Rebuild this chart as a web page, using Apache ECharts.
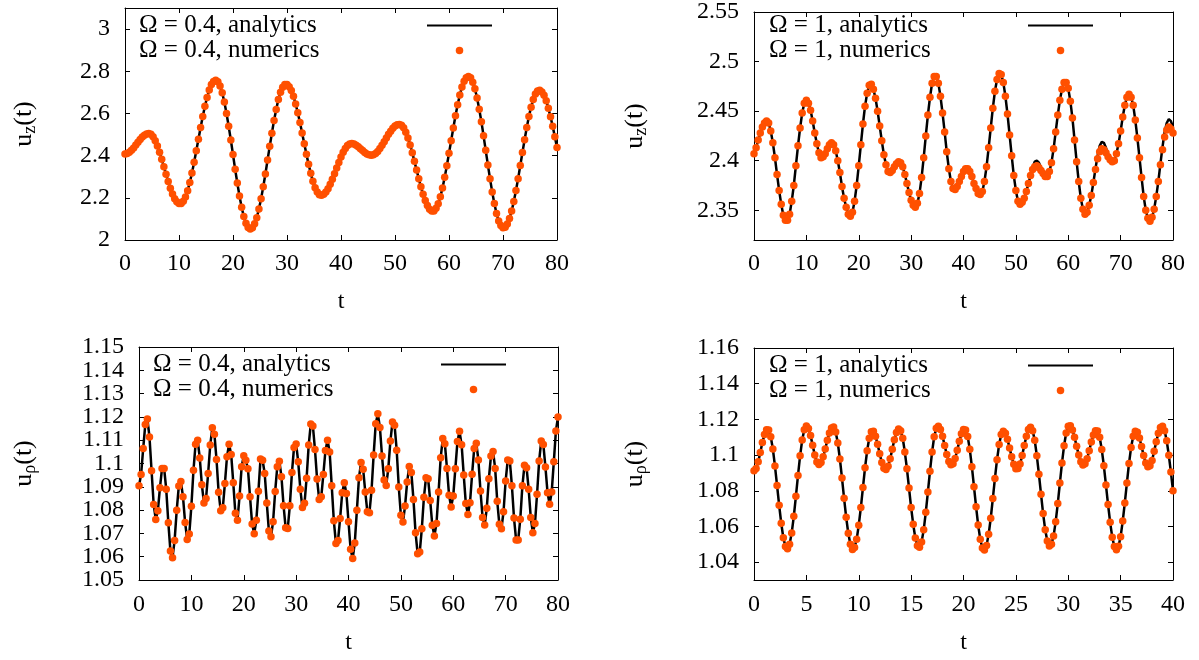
<!DOCTYPE html>
<html>
<head>
<meta charset="utf-8">
<script src="https://cdn.jsdelivr.net/npm/echarts@6/dist/echarts.min.js"></script>
<style>html,body{margin:0;padding:0;background:#fff}#chart{width:1199px;height:660px}</style>
</head>
<body>
<div id="chart"></div>
<script>
// ---------------- data ----------------
// u_z(t), Omega = 0.4, t = 0 .. 80 step 0.4
const UZ_W04 = [
2.408,2.410,2.416,2.425,2.436,2.450,2.463,2.477,2.488,2.497,
2.503,2.505,2.501,2.490,2.471,2.446,2.416,2.383,2.347,2.312,
2.277,2.245,2.218,2.196,2.181,2.173,2.173,2.184,2.204,2.234,
2.273,2.318,2.369,2.423,2.478,2.533,2.586,2.634,2.676,2.711,
2.737,2.752,2.757,2.750,2.730,2.698,2.654,2.600,2.539,2.474,
2.405,2.335,2.270,2.209,2.155,2.111,2.079,2.059,2.052,2.058,
2.077,2.106,2.147,2.196,2.252,2.313,2.379,2.444,2.506,2.567,
2.619,2.666,2.700,2.724,2.737,2.737,2.727,2.709,2.681,2.645,
2.603,2.557,2.507,2.456,2.406,2.359,2.316,2.278,2.248,2.227,
2.215,2.212,2.217,2.227,2.243,2.264,2.288,2.314,2.341,2.368,
2.394,2.416,2.434,2.448,2.455,2.457,2.455,2.449,2.442,2.433,
2.424,2.415,2.408,2.404,2.402,2.404,2.410,2.420,2.434,2.449,
2.466,2.484,2.501,2.516,2.530,2.540,2.546,2.548,2.544,2.532,
2.511,2.484,2.451,2.414,2.373,2.332,2.291,2.252,2.217,2.187,
2.163,2.146,2.138,2.138,2.150,2.172,2.205,2.247,2.297,2.352,
2.411,2.471,2.531,2.589,2.641,2.687,2.725,2.753,2.769,2.775,
2.769,2.748,2.717,2.673,2.620,2.561,2.494,2.425,2.356,2.290,
2.228,2.173,2.126,2.090,2.069,2.058,2.061,2.076,2.102,2.137,
2.183,2.235,2.291,2.353,2.415,2.475,2.533,2.586,2.630,2.666,
2.692,2.706,2.710,2.702,2.686,2.660,2.625,2.584,2.539,2.490,
2.439];

// u_z(t), Omega = 1, numerics, t = 0 .. 80 step 0.4
const UZ_W1_NUM = [
2.407,2.413,2.421,2.428,2.434,2.438,2.440,2.438,2.430,2.418,
2.403,2.386,2.370,2.356,2.345,2.340,2.340,2.346,2.359,2.375,
2.395,2.415,2.433,2.448,2.458,2.461,2.458,2.451,2.440,2.428,
2.417,2.408,2.403,2.404,2.407,2.412,2.416,2.418,2.416,2.410,
2.400,2.388,2.374,2.362,2.353,2.346,2.344,2.348,2.359,2.375,
2.395,2.416,2.437,2.455,2.468,2.476,2.477,2.472,2.463,2.450,
2.435,2.420,2.406,2.396,2.389,2.388,2.390,2.394,2.397,2.399,
2.398,2.394,2.386,2.377,2.368,2.360,2.355,2.353,2.357,2.367,
2.383,2.403,2.425,2.446,2.464,2.478,2.485,2.485,2.478,2.465,
2.448,2.429,2.409,2.392,2.379,2.372,2.371,2.374,2.379,2.384,
2.389,2.392,2.392,2.389,2.384,2.377,2.372,2.367,2.366,2.369,
2.379,2.394,2.413,2.433,2.453,2.470,2.482,2.488,2.487,2.479,
2.465,2.447,2.426,2.405,2.385,2.370,2.359,2.356,2.358,2.362,
2.369,2.377,2.385,2.391,2.394,2.395,2.393,2.390,2.387,2.384,
2.384,2.389,2.398,2.412,2.429,2.446,2.461,2.472,2.479,2.479,
2.473,2.460,2.443,2.421,2.399,2.379,2.362,2.351,2.346,2.348,
2.355,2.365,2.378,2.391,2.402,2.409,2.412,2.411,2.408,2.404,
2.401,2.399,2.400,2.407,2.417,2.430,2.444,2.456,2.464,2.467,
2.464,2.456,2.441,2.423,2.403,2.383,2.364,2.350,2.342,2.339,
2.343,2.351,2.364,2.379,2.396,2.411,2.424,2.431,2.434,2.432,
2.428];

// u_z(t), Omega = 1, analytics, t = 0 .. 80 step 0.4
const UZ_W1_ANA = [
2.407,2.413,2.421,2.428,2.434,2.438,2.440,2.438,2.430,2.418,
2.403,2.386,2.370,2.356,2.345,2.340,2.340,2.346,2.359,2.375,
2.395,2.415,2.433,2.448,2.458,2.461,2.458,2.451,2.440,2.428,
2.417,2.408,2.403,2.404,2.407,2.412,2.416,2.418,2.416,2.410,
2.400,2.388,2.374,2.362,2.353,2.346,2.344,2.348,2.359,2.375,
2.395,2.416,2.437,2.455,2.468,2.476,2.477,2.472,2.463,2.450,
2.435,2.420,2.406,2.396,2.389,2.388,2.390,2.394,2.397,2.399,
2.398,2.394,2.386,2.377,2.368,2.360,2.355,2.353,2.357,2.367,
2.383,2.403,2.425,2.446,2.464,2.478,2.485,2.485,2.478,2.465,
2.448,2.429,2.409,2.392,2.379,2.372,2.371,2.374,2.379,2.384,
2.389,2.394,2.394,2.389,2.384,2.377,2.372,2.367,2.366,2.369,
2.379,2.394,2.413,2.433,2.453,2.470,2.482,2.488,2.487,2.479,
2.465,2.447,2.426,2.405,2.385,2.370,2.359,2.356,2.358,2.362,
2.369,2.377,2.385,2.393,2.399,2.400,2.398,2.393,2.388,2.384,
2.384,2.389,2.398,2.412,2.429,2.446,2.461,2.472,2.479,2.479,
2.473,2.460,2.443,2.421,2.399,2.379,2.362,2.351,2.346,2.348,
2.355,2.365,2.378,2.392,2.405,2.415,2.419,2.418,2.413,2.406,
2.402,2.400,2.401,2.407,2.417,2.430,2.444,2.456,2.464,2.467,
2.464,2.456,2.441,2.423,2.403,2.383,2.364,2.350,2.342,2.339,
2.343,2.351,2.364,2.379,2.397,2.414,2.429,2.438,2.442,2.440,
2.434];

// u_rho(t), Omega = 0.4, t = 0 .. 80 step 0.4
const URHO_W04 = [
1.0904,1.0953,1.1064,1.1167,1.1191,1.1114,1.0969,1.0824,1.0760,1.0797,
1.0896,1.0979,1.0979,1.0889,1.0746,1.0624,1.0596,1.0670,1.0799,1.0903,
1.0923,1.0857,1.0747,1.0674,1.0697,1.0817,1.0971,1.1083,1.1100,1.1024,
1.0909,1.0831,1.0850,1.0957,1.1079,1.1153,1.1126,1.1017,1.0877,1.0797,
1.0810,1.0914,1.1029,1.1083,1.1039,1.0917,1.0786,1.0756,1.0860,1.0986,
1.1033,1.1014,1.0977,1.0857,1.0740,1.0699,1.0756,1.0881,1.1019,1.1014,
1.0957,1.0831,1.0710,1.0686,1.0750,1.0880,1.0986,1.1010,1.0943,1.0819,
1.0724,1.0721,1.0819,1.0961,1.1069,1.1084,1.1007,1.0890,1.0811,1.0829,
1.0937,1.1079,1.1170,1.1161,1.1060,1.0933,1.0846,1.0857,1.0953,1.1056,
1.1100,1.1049,1.0904,1.0754,1.0657,1.0669,1.0764,1.0874,1.0917,1.0871,
1.0750,1.0632,1.0592,1.0659,1.0799,1.0939,1.1004,1.0975,1.0878,1.0793,
1.0789,1.0885,1.1037,1.1171,1.1214,1.1154,1.1032,1.0929,1.0906,1.0978,
1.1097,1.1178,1.1164,1.1057,1.0899,1.0778,1.0749,1.0818,1.0921,1.0987,
1.0961,1.0846,1.0703,1.0613,1.0620,1.0720,1.0855,1.0939,1.0935,1.0841,
1.0735,1.0689,1.0743,1.0878,1.1025,1.1107,1.1085,1.0979,1.0864,1.0813,
1.0861,1.0978,1.1094,1.1138,1.1080,1.0951,1.0828,1.0781,1.0832,1.0954,
1.1064,1.1087,1.1015,1.0882,1.0768,1.0736,1.0808,1.0935,1.1032,1.1052,
1.0979,1.0838,1.0739,1.0720,1.0793,1.0925,1.1015,1.1011,1.0904,1.0766,
1.0672,1.0672,1.0761,1.0904,1.0992,1.0982,1.0889,1.0768,1.0703,1.0742,
1.0868,1.1011,1.1097,1.1082,1.0985,1.0875,1.0825,1.0878,1.1007,1.1140,
1.1200];

// u_rho(t), Omega = 1, t = 0 .. 40 step 0.2
const URHO_W1 = [
1.0912,1.0925,1.0962,1.1015,1.1070,1.1116,1.1142,1.1140,1.1103,1.1034,
1.0939,1.0830,1.0719,1.0618,1.0537,1.0488,1.0475,1.0501,1.0564,1.0657,
1.0769,1.0886,1.0996,1.1084,1.1142,1.1163,1.1149,1.1109,1.1055,1.1001,
1.0961,1.0947,1.0958,1.0990,1.1034,1.1083,1.1124,1.1152,1.1157,1.1129,
1.1068,1.0978,1.0871,1.0758,1.0651,1.0562,1.0500,1.0471,1.0482,1.0528,
1.0607,1.0706,1.0818,1.0929,1.1024,1.1094,1.1131,1.1133,1.1106,1.1061,
1.1007,1.0959,1.0926,1.0919,1.0938,1.0979,1.1033,1.1086,1.1127,1.1146,
1.1137,1.1094,1.1017,1.0923,1.0815,1.0706,1.0612,1.0535,1.0492,1.0483,
1.0513,1.0581,1.0679,1.0793,1.0910,1.1017,1.1102,1.1151,1.1162,1.1144,
1.1105,1.1054,1.1003,1.0964,1.0946,1.0952,1.0981,1.1027,1.1077,1.1119,
1.1143,1.1141,1.1104,1.1032,1.0935,1.0823,1.0711,1.0608,1.0528,1.0479,
1.0468,1.0494,1.0556,1.0646,1.0756,1.0869,1.0974,1.1059,1.1115,1.1134,
1.1122,1.1088,1.1040,1.0990,1.0948,1.0924,1.0925,1.0950,1.0997,1.1053,
1.1105,1.1143,1.1156,1.1137,1.1083,1.0996,1.0893,1.0781,1.0672,1.0581,
1.0518,1.0490,1.0500,1.0547,1.0627,1.0728,1.0843,1.0955,1.1052,1.1124,
1.1162,1.1164,1.1141,1.1100,1.1049,1.1001,1.0963,1.0945,1.0952,1.0980,
1.1024,1.1073,1.1113,1.1137,1.1135,1.1100,1.1031,1.0940,1.0832,1.0723,
1.0623,1.0540,1.0488,1.0470,1.0489,1.0543,1.0630,1.0732,1.0844,1.0953,
1.1043,1.1106,1.1134,1.1128,1.1096,1.1048,1.0997,1.0955,1.0934,1.0940,
1.0970,1.1021,1.1075,1.1122,1.1155,1.1161,1.1136,1.1080,1.0999,1.0905,
1.0800];

const STEP_80 = 0.4;   // sampling step of the t = 0..80 panels
const STEP_40 = 0.2;   // sampling step of the t = 0..40 panel

const Y_TICKS_UZ_W04 = [2, 2.2, 2.4, 2.6, 2.8, 3];
const Y_TICKS_UZ_W1 = [2.35, 2.4, 2.45, 2.5, 2.55];
const Y_TICKS_URHO_W04 = [1.05, 1.06, 1.07, 1.08, 1.09, 1.1, 1.11, 1.12, 1.13, 1.14, 1.15];
const Y_TICKS_URHO_W1 = [1.04, 1.06, 1.08, 1.1, 1.12, 1.14, 1.16];

const LABELS = {
  a04z: 'Ω = 0.4, analytics', n04z: 'Ω = 0.4, numerics',
  a1z: 'Ω = 1, analytics', n1z: 'Ω = 1, numerics',
  a04r: 'Ω = 0.4, analytics', n04r: 'Ω = 0.4, numerics',
  a1r: 'Ω = 1, analytics', n1r: 'Ω = 1, numerics'
};

// ---------------- chart ----------------
const FONT = 'Liberation Serif';
const DOT = '#ff5000';
const toPairs = (vals, dt) => vals.map((v, i) => [Math.round(i * dt * 10) / 10, v]);
const fmt = v => String(Math.round(v * 1000) / 1000);

const panels = [
  { grid: {left: 125, top: 8, width: 432, height: 232}, xMax: 80, xInt: 10, yMin: 2, yMax: 3.1, yTicks: Y_TICKS_UZ_W04,
    sub: 'z', nameGap: 86, xNameGap: 50, xLabelMargin: 12,
    ana: toPairs(UZ_W04, STEP_80), num: toPairs(UZ_W04, STEP_80), aName: 'a04z', nName: 'n04z',
    legend: {left: 139, top: 13, w: 283} },
  { grid: {left: 754, top: 8, width: 419, height: 232}, xMax: 80, xInt: 10, yMin: 2.32, yMax: 2.55, yTicks: Y_TICKS_UZ_W1,
    sub: 'z', nameGap: 104, xNameGap: 50, xLabelMargin: 12,
    ana: toPairs(UZ_W1_ANA, STEP_80), num: toPairs(UZ_W1_NUM, STEP_80), aName: 'a1z', nName: 'n1z',
    legend: {left: 769, top: 13, w: 254} },
  { grid: {left: 139, top: 347, width: 419, height: 233}, xMax: 80, xInt: 10, yMin: 1.05, yMax: 1.15, yTicks: Y_TICKS_URHO_W04,
    sub: 'ρ', nameGap: 100, xNameGap: 51, xLabelMargin: 13, splitLabels: true,
    ana: toPairs(URHO_W04, STEP_80), num: toPairs(URHO_W04, STEP_80), aName: 'a04r', nName: 'n04r',
    legend: {left: 153, top: 352, w: 283} },
  { grid: {left: 754, top: 348, width: 419, height: 232}, xMax: 40, xInt: 5, yMin: 1.03, yMax: 1.16, yTicks: Y_TICKS_URHO_W1,
    sub: 'ρ', nameGap: 104, xNameGap: 51, xLabelMargin: 13,
    ana: toPairs(URHO_W1, STEP_40), num: toPairs(URHO_W1, STEP_40), aName: 'a1r', nName: 'n1r',
    legend: {left: 769, top: 353, w: 254} }
];

const txt = {color: '#000', fontFamily: FONT, fontSize: 24};
const axisLine = {show: true, onZero: false, lineStyle: {color: '#000', width: 1}};
const option = {
  backgroundColor: '#fff', animation: false,
  textStyle: {fontFamily: FONT},
  grid: [], xAxis: [], yAxis: [], series: [], legend: []
};
const extraY = [];

panels.forEach((p, i) => {
  option.grid.push(Object.assign({containLabel: false}, p.grid));
  const xBase = {type: 'value', gridIndex: i, min: 0, max: p.xMax, interval: p.xInt,
    axisLine, splitLine: {show: false},
    axisTick: {show: true, inside: true, length: 5, lineStyle: {color: '#000'}}};
  option.xAxis.push(Object.assign({}, xBase, {position: 'bottom',
    axisLabel: Object.assign({margin: p.xLabelMargin, showMinLabel: true, showMaxLabel: true}, txt),
    name: 't', nameLocation: 'middle', nameGap: p.xNameGap, nameTextStyle: txt}));
  option.xAxis.push(Object.assign({}, xBase, {position: 'top', axisLabel: {show: false}}));
  const yBase = {type: 'value', gridIndex: i, min: p.yMin, max: p.yMax, axisLine, splitLine: {show: false},
    axisTick: {show: true, inside: true, length: 5, customValues: p.yTicks, lineStyle: {color: '#000'}}};
  // densely packed labels are split over two overlapping left axes so none is dropped
  const labelsA = p.splitLabels ? p.yTicks.filter((_, k) => k % 2 === 0) : p.yTicks;
  const labelsB = p.splitLabels ? p.yTicks.filter((_, k) => k % 2 === 1) : null;
  option.yAxis.push(Object.assign({}, yBase, {position: 'left',
    axisLabel: Object.assign({margin: 15, customValues: labelsA, formatter: fmt,
      showMinLabel: true, showMaxLabel: true}, txt),
    name: '{u|u}{s|' + p.sub + '}{u|(t)}', nameLocation: 'middle', nameRotate: 90, nameGap: p.nameGap,
    nameTextStyle: Object.assign({}, txt, {rich: {
      u: {fontFamily: FONT, fontSize: 26, color: '#000'},
      s: {fontFamily: FONT, fontSize: 18, color: '#000', padding: [12, 0, 0, 0]}
    }})}));
  option.yAxis.push(Object.assign({}, yBase, {position: 'right', axisLabel: {show: false}}));
  if (labelsB) {
    extraY.push({type: 'value', gridIndex: i, min: p.yMin, max: p.yMax, position: 'left', offset: 0,
      axisLine: {show: false}, axisTick: {show: false}, splitLine: {show: false},
      axisLabel: Object.assign({margin: 15, customValues: labelsB, formatter: fmt,
        showMinLabel: true, showMaxLabel: true}, txt)});
  }

  option.series.push({type: 'line', name: p.aName, xAxisIndex: 2 * i, yAxisIndex: 2 * i, data: p.ana,
    symbol: 'none', smooth: false, lineStyle: {color: '#000', width: 2.5},
    itemStyle: {color: 'rgba(0,0,0,0)', borderWidth: 0}, z: 2});
  option.series.push({type: 'scatter', name: p.nName, xAxisIndex: 2 * i, yAxisIndex: 2 * i, data: p.num,
    symbol: 'circle', symbolSize: 7.5, itemStyle: {color: DOT, opacity: 1}, clip: false, z: 3});

  option.legend.push({
    orient: 'vertical', left: p.legend.left, top: p.legend.top, padding: 0, itemGap: 0,
    align: 'right', selectedMode: false, itemWidth: 65, itemHeight: 7.5,
    data: [p.aName, p.nName],
    formatter: name => '{t|' + LABELS[name] + '}',
    textStyle: {fontFamily: FONT, fontSize: 25, color: '#000',
      rich: {t: {fontFamily: FONT, fontSize: 25, color: '#000', width: p.legend.w, lineHeight: 25, align: 'left'}}}
  });
});
option.yAxis.push(...extraY);

const chart = echarts.init(document.getElementById('chart'), null, {renderer: 'canvas'});
chart.setOption(option);
</script>
</body>
</html>
